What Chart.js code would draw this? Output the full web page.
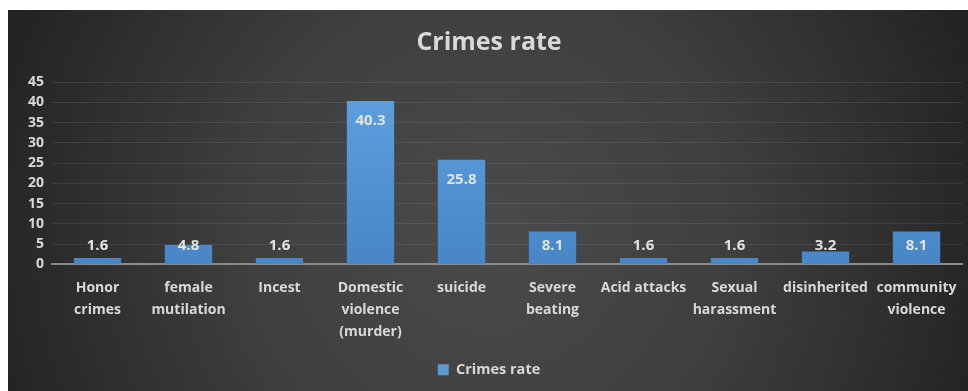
<!DOCTYPE html>
<html>
<head>
<meta charset="utf-8">
<script src="https://cdn.jsdelivr.net/npm/chart.js@4/dist/chart.umd.min.js"></script>
<style>
  html, body { margin: 0; padding: 0; background: #fff; }
  #wrap { position: absolute; left: 8px; top: 10px; width: 960px; height: 381px; }
</style>
</head>
<body>
<div id="wrap"><canvas id="crimesChart"></canvas></div>
<script>
const categories = [
  ["Honor", "crimes"],
  ["female", "mutilation"],
  ["Incest"],
  ["Domestic", "violence", "(murder)"],
  ["suicide"],
  ["Severe", "beating"],
  ["Acid attacks"],
  ["Sexual", "harassment"],
  ["disinherited"],
  ["community", "violence"]
]
const crimesRate = [1.6, 4.8, 1.6, 40.3, 25.8, 8.1, 1.6, 1.6, 3.2, 8.1]
const yTicks = [0, 5, 10, 15, 20, 25, 30, 35, 40, 45]

const FONT = "'Open Sans', sans-serif"
const TEXT = "#d9d9d9"

const background = {
  id: "background",
  beforeDraw(chart) {
    const { ctx, width, height } = chart
    const g = ctx.createRadialGradient(width * 0.5, height * 0.58, 10, width * 0.5, height * 0.58, width * 0.55)
    g.addColorStop(0, "#4a4a4a")
    g.addColorStop(0.45, "#3f3f3f")
    g.addColorStop(1, "#222222")
    ctx.save()
    ctx.fillStyle = g
    ctx.fillRect(0, 0, width, height)
    ctx.restore()
  }
}

const barLabels = {
  id: "barLabels",
  afterDatasetsDraw(chart) {
    const { ctx } = chart
    const meta = chart.getDatasetMeta(0)
    const base = chart.scales.y.getPixelForValue(0)
    ctx.save()
    ctx.font = "bold 15px " + FONT
    ctx.fillStyle = "#e2e2e2"
    ctx.textAlign = "center"
    ctx.textBaseline = "middle"
    meta.data.forEach((bar, i) => {
      const y = Math.min(bar.y + 20, base - 19)
      ctx.fillText(crimesRate[i].toFixed(1), bar.x, y)
    })
    ctx.restore()
  }
}

const ctx = document.getElementById("crimesChart")
new Chart(ctx, {
  type: "bar",
  data: {
    labels: categories,
    datasets: [
      {
        label: "Crimes rate",
        data: crimesRate,
        backgroundColor(context) {
          const area = context.chart.chartArea
          if (!area) return "#5b9bd5"
          const g = context.chart.ctx.createLinearGradient(0, area.top, 0, area.bottom)
          g.addColorStop(0, "#5fa2df")
          g.addColorStop(1, "#4886c6")
          return g
        },
        borderWidth: 0,
        categoryPercentage: 1,
        barPercentage: 0.52
      }
    ]
  },
  options: {
    responsive: true,
    maintainAspectRatio: false,
    animation: false,
    layout: {
      padding: { top: 0, right: 6, bottom: 4, left: 8 }
    },
    plugins: {
      title: {
        display: true,
        text: "Crimes rate",
        color: TEXT,
        font: { family: FONT, size: 25, weight: "bold" },
        padding: { top: 18, bottom: 24 }
      },
      legend: {
        position: "bottom",
        labels: {
          color: TEXT,
          font: { family: FONT, size: 14.5, weight: "bold" },
          boxWidth: 11,
          boxHeight: 11,
          padding: 10,
          generateLabels(chart) {
            return [{ text: "Crimes rate", fillStyle: "#5b9bd5", strokeStyle: "#5b9bd5", lineWidth: 0, fontColor: TEXT, datasetIndex: 0 }]
          }
        }
      },
      tooltip: { enabled: false }
    },
    scales: {
      x: {
        grid: { display: false },
        border: { color: "#8a8a8a", width: 2 },
        afterFit(scale) {
          scale.height += 5
        },
        ticks: {
          color: TEXT,
          font: { family: FONT, size: 14, weight: "bold", lineHeight: 1.55 },
          maxRotation: 0,
          autoSkip: false,
          padding: 5
        }
      },
      y: {
        min: 0,
        max: 45,
        afterBuildTicks(scale) {
          scale.ticks = yTicks.map((v) => ({ value: v }))
        },
        afterFit(scale) {
          scale.width = 36
        },
        grid: { color: "rgba(255,255,255,0.09)", lineWidth: 1, drawTicks: false },
        border: { display: false },
        ticks: {
          color: TEXT,
          font: { family: FONT, size: 14, weight: "bold" },
          padding: 8
        }
      }
    }
  },
  plugins: [background, barLabels]
})
</script>
</body>
</html>
